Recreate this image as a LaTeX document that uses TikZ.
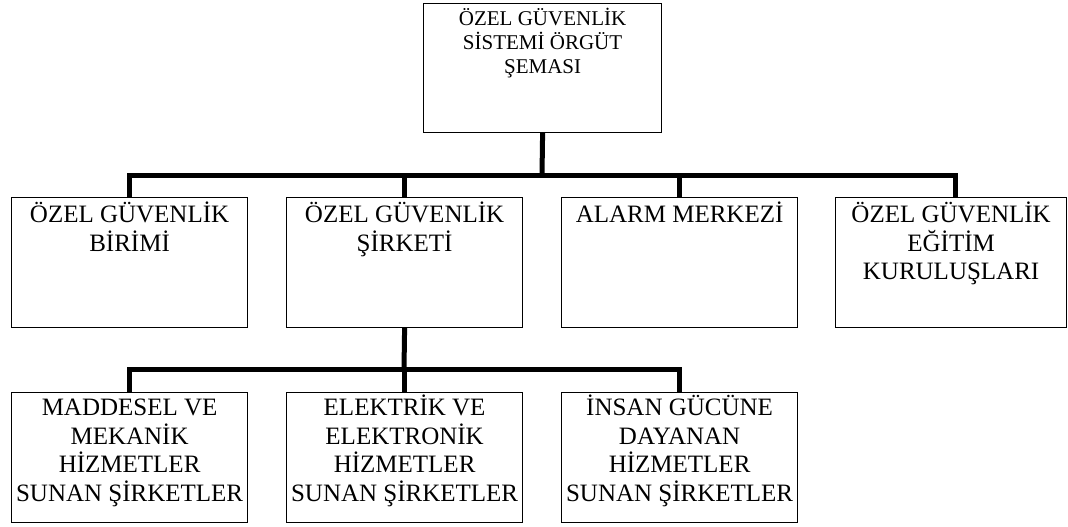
\documentclass[tikz,border=0pt]{standalone}
\usepackage{fontspec}
\setmainfont{Liberation Serif}

\newcommand{\yazi}[4]{\parbox[t][#2][t]{#1}{\centering\rule{0pt}{#3}#4}}

\tikzset{
    kutu/.style={draw, line width=1.2pt, inner sep=0pt, anchor=north west,
        font=\fontsize{25}{28.5}\selectfont},
    hat/.style={line width=5pt}
}

\begin{document}
\begin{tikzpicture}[x=1pt, y=-1pt]
    \useasboundingbox (0,0) rectangle (1068,527);
    % ust kutu
    \node[kutu, font=\fontsize{21}{24}\selectfont] (sema) at (423,3)
        {\yazi{238pt}{129pt}{22pt}{ÖZEL GÜVENLİK\\SİSTEMİ ÖRGÜT\\ŞEMASI}};
    % ikinci sira
    \node[kutu] (birim) at (11,197) {\yazi{236pt}{130pt}{25pt}{ÖZEL GÜVENLİK\\BİRİMİ}};
    \node[kutu] (sirket) at (286,197) {\yazi{236pt}{130pt}{25pt}{ÖZEL GÜVENLİK\\ŞİRKETİ}};
    \node[kutu] (alarm) at (561,197) {\yazi{236pt}{130pt}{25pt}{ALARM MERKEZİ}};
    \node[kutu] (egitim) at (835,197) {\yazi{231pt}{130pt}{25pt}{ÖZEL GÜVENLİK\\EĞİTİM\\KURULUŞLARI}};
    % ucuncu sira
    \node[kutu] (maddesel) at (11,392) {\yazi{236pt}{130pt}{23pt}{MADDESEL VE\\MEKANİK\\HİZMETLER\\SUNAN ŞİRKETLER}};
    \node[kutu] (elektrik) at (286,392) {\yazi{236pt}{130pt}{23pt}{ELEKTRİK VE\\ELEKTRONİK\\HİZMETLER\\SUNAN ŞİRKETLER}};
    \node[kutu] (insan) at (561,392) {\yazi{236pt}{130pt}{23pt}{İNSAN GÜCÜNE\\DAYANAN\\HİZMETLER\\SUNAN ŞİRKETLER}};

    % baglantilar
    \coordinate (kol1) at (542,175);
    \draw[hat] (sema.south) -- (kol1);
    \draw[hat] (birim.north) |- (kol1) -| ([xshift=4pt]egitim.north);
    \draw[hat] (sirket.north) -- (sirket.north |- kol1);
    \draw[hat] (alarm.north) -- (alarm.north |- kol1);

    \coordinate (kol2) at (404,369);
    \draw[hat] (sirket.south) -- (kol2);
    \draw[hat] (maddesel.north) |- (kol2) -| (insan.north);
    \draw[hat] (elektrik.north) -- (elektrik.north |- kol2);
\end{tikzpicture}
\end{document}
